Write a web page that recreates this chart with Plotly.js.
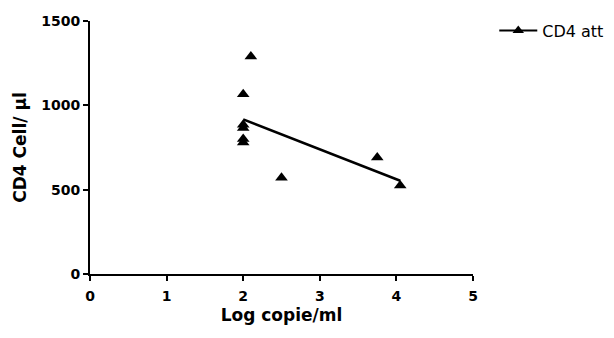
<!DOCTYPE html>
<html>
<head>
<meta charset="utf-8">
<script src="https://cdn.plot.ly/plotly-3.0.1.min.js"></script>
<style>
  html, body { margin: 0; padding: 0; background: #fff; }
  #chart { width: 614px; height: 338px; }
</style>
</head>
<body>
<div id="chart"></div>
<script>
// Viral load (log copies/ml) against CD4 count (cells/µl)
const logCopies = [2.0, 2.0, 2.0, 2.0, 2.0, 2.1, 2.5, 3.75, 4.05];
const cd4Counts = [1065, 885, 865, 800, 780, 1290, 570, 690, 525];
const seriesName = 'CD4 att';
const xTicks = [0, 1, 2, 3, 4, 5];
const yTicks = [0, 500, 1000, 1500];

// Least-squares fit drawn across the observed x range
function linearFit(xs, ys) {
  const n = xs.length;
  const mx = xs.reduce((a, b) => a + b, 0) / n;
  const my = ys.reduce((a, b) => a + b, 0) / n;
  let sxx = 0, sxy = 0;
  for (let i = 0; i < n; i++) {
    sxx += (xs[i] - mx) * (xs[i] - mx);
    sxy += (xs[i] - mx) * (ys[i] - my);
  }
  const slope = sxy / sxx;
  return { slope, intercept: my - slope * mx };
}
const fit = linearFit(logCopies, cd4Counts);
const fitX = [Math.min(...logCopies), Math.max(...logCopies)];
const fitY = fitX.map(x => fit.intercept + fit.slope * x);

const tickFont = { family: 'DejaVu Sans', size: 14, color: '#000', weight: 'bold' };
const titleFont = { family: 'DejaVu Sans', size: 17, color: '#000', weight: 'bold' };

const traces = [
  {
    x: logCopies, y: cd4Counts, type: 'scatter', mode: 'markers',
    marker: { symbol: 'triangle-up', size: 11, color: '#000' },
    showlegend: false, hoverinfo: 'skip', cliponaxis: false
  },
  {
    x: fitX, y: fitY, type: 'scatter', mode: 'lines',
    line: { color: '#000', width: 2.5 },
    showlegend: false, hoverinfo: 'skip'
  },
  {
    x: [null], y: [null], type: 'scatter', mode: 'lines+markers', name: seriesName,
    line: { color: '#000', width: 2 },
    marker: { symbol: 'triangle-up', size: 10, color: '#000' }
  }
];

const layout = {
  width: 614, height: 338,
  margin: { l: 90, r: 141, t: 21, b: 64 },
  paper_bgcolor: '#fff', plot_bgcolor: '#fff',
  showlegend: true,
  legend: {
    xref: 'container', yref: 'container',
    x: 0.805, y: 0.96, xanchor: 'left', yanchor: 'top',
    itemwidth: 38,
    font: { family: 'DejaVu Sans', size: 16, color: '#000' },
    bgcolor: 'rgba(0,0,0,0)'
  },
  xaxis: {
    range: [0, 5], tickvals: xTicks, ticktext: xTicks.map(String),
    showgrid: false, zeroline: false,
    showline: true, linecolor: '#000', linewidth: 2,
    ticks: 'outside', ticklen: 5, tickwidth: 2, tickcolor: '#000',
    tickfont: tickFont, ticklabelstandoff: 3,
    title: { text: 'Log copie/ml', font: titleFont, standoff: 6 }
  },
  yaxis: {
    range: [0, 1500], tickvals: yTicks, ticktext: yTicks.map(String),
    showgrid: false, zeroline: false,
    showline: true, linecolor: '#000', linewidth: 2,
    ticks: 'outside', ticklen: 5, tickwidth: 2, tickcolor: '#000',
    tickfont: tickFont,
    title: { text: 'CD4 Cell/ µl', font: titleFont, standoff: 10 }
  }
};

Plotly.newPlot('chart', traces, layout, { displayModeBar: false, staticPlot: true });
</script>
</body>
</html>
